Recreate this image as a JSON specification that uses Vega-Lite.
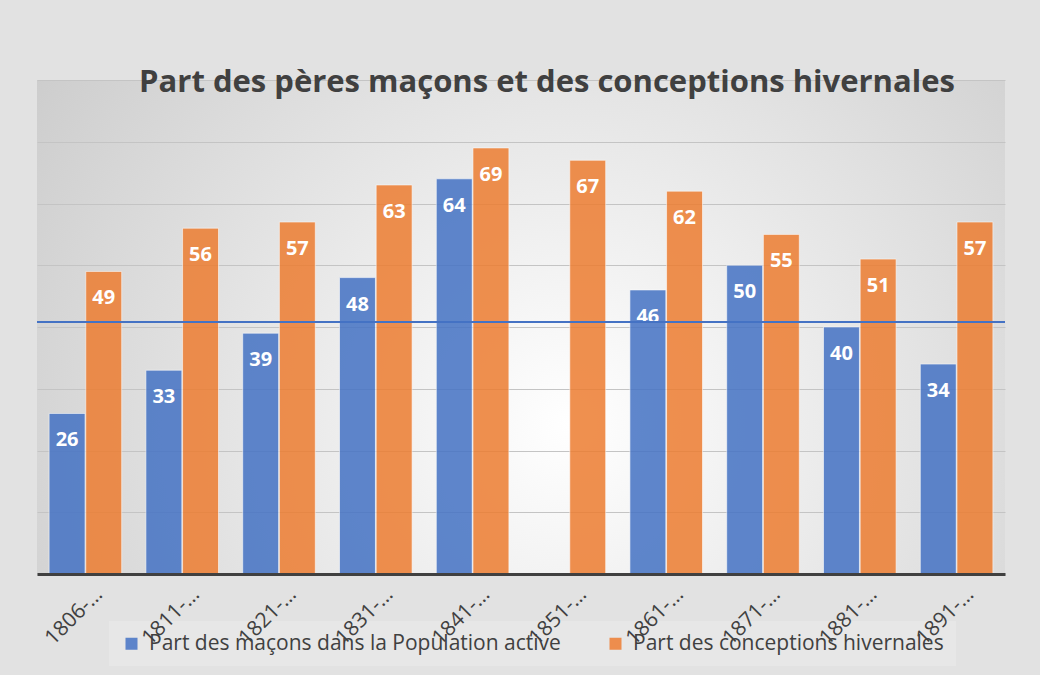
{
  "$schema": "https://vega.github.io/schema/vega-lite/v6.json",
  "width": 968,
  "height": 494,
  "autosize": {"type": "none"},
  "padding": {"left": 37, "top": 80, "right": 35, "bottom": 101},
  "background": "#e2e2e2",
  "view": {
    "stroke": null,
    "fill": {"gradient": "radial", "x1": 0.55, "y1": 0.6, "r1": 0, "x2": 0.55, "y2": 0.6, "r2": 0.75,
      "stops": [{"offset": 0, "color": "#ffffff"}, {"offset": 1, "color": "#c6c6c6"}]}
  },
  "title": {
    "text": "Part des pères maçons et des conceptions hivernales",
    "font": "Open Sans", "fontSize": 31, "fontWeight": "bold", "color": "#404040",
    "anchor": "middle", "offset": -19, "dx": 26
  },
  "config": {
    "font": "Open Sans",
    "axis": {"labelFont": "Open Sans", "titleFont": "Open Sans"},
    "legend": {"labelFont": "Open Sans"}
  },
  "layer": [
    {
      "data": {"values": [
        {"periode": "1806-…", "serie": "Part des maçons dans la Population active", "valeur": 26},
        {"periode": "1806-…", "serie": "Part des conceptions hivernales", "valeur": 49},
        {"periode": "1811-…", "serie": "Part des maçons dans la Population active", "valeur": 33},
        {"periode": "1811-…", "serie": "Part des conceptions hivernales", "valeur": 56},
        {"periode": "1821-…", "serie": "Part des maçons dans la Population active", "valeur": 39},
        {"periode": "1821-…", "serie": "Part des conceptions hivernales", "valeur": 57},
        {"periode": "1831-…", "serie": "Part des maçons dans la Population active", "valeur": 48},
        {"periode": "1831-…", "serie": "Part des conceptions hivernales", "valeur": 63},
        {"periode": "1841-…", "serie": "Part des maçons dans la Population active", "valeur": 64},
        {"periode": "1841-…", "serie": "Part des conceptions hivernales", "valeur": 69},
        {"periode": "1851-…", "serie": "Part des conceptions hivernales", "valeur": 67},
        {"periode": "1861-…", "serie": "Part des maçons dans la Population active", "valeur": 46},
        {"periode": "1861-…", "serie": "Part des conceptions hivernales", "valeur": 62},
        {"periode": "1871-…", "serie": "Part des maçons dans la Population active", "valeur": 50},
        {"periode": "1871-…", "serie": "Part des conceptions hivernales", "valeur": 55},
        {"periode": "1881-…", "serie": "Part des maçons dans la Population active", "valeur": 40},
        {"periode": "1881-…", "serie": "Part des conceptions hivernales", "valeur": 51},
        {"periode": "1891-…", "serie": "Part des maçons dans la Population active", "valeur": 34},
        {"periode": "1891-…", "serie": "Part des conceptions hivernales", "valeur": 57}
      ]},
      "encoding": {
        "x": {
          "field": "periode", "type": "nominal", "sort": null,
          "scale": {"paddingInner": 0.25, "paddingOuter": 0.125},
          "axis": {
            "title": null, "labelAngle": -45, "labelAlign": "right", "labelBaseline": "middle",
            "labelFontSize": 21, "labelColor": "#404040", "labelOffset": 14, "labelPadding": 17,
            "ticks": false, "domainColor": "#404040", "domainWidth": 3, "grid": false, "zindex": 1
          }
        },
        "xOffset": {
          "field": "serie", "type": "nominal",
          "scale": {"domain": ["Part des maçons dans la Population active", "Part des conceptions hivernales"], "paddingInner": 0.02}
        },
        "y": {
          "field": "valeur", "type": "quantitative",
          "scale": {"domain": [0, 80], "nice": false},
          "axis": {"title": null, "labels": false, "ticks": false, "domain": false, "tickCount": 8,
            "gridColor": "#c4c4c4", "gridWidth": 1}
        }
      },
      "layer": [
        {
          "mark": {"type": "bar", "opacity": 0.85, "stroke": "#ffffff", "strokeWidth": 1, "strokeOpacity": 0.6},
          "encoding": {
            "color": {
              "field": "serie", "type": "nominal",
              "scale": {"domain": ["Part des maçons dans la Population active", "Part des conceptions hivernales"], "range": ["#4472C4", "#ED7D31"]},
              "legend": {
                "title": null, "orient": "none", "direction": "horizontal",
                "legendX": 72, "legendY": 541,
                "symbolType": "square", "symbolSize": 144, "symbolOpacity": 0.85, "symbolStrokeWidth": 0,
                "labelFontSize": 21, "labelColor": "#404040", "labelOffset": 7, "labelLimit": 500,
                "columnPadding": 44, "padding": 12, "fillColor": "rgba(238,238,238,0.45)"
              }
            }
          }
        },
        {
          "mark": {"type": "text", "color": "#ffffff", "fontWeight": "bold", "fontSize": 20, "baseline": "middle", "dy": 27},
          "encoding": {"text": {"field": "valeur", "type": "quantitative"}}
        }
      ]
    },
    {
      "data": {"values": [{"reference": 40.8}]},
      "mark": {"type": "rule", "color": "#4472C4", "strokeWidth": 2},
      "encoding": {"y": {"field": "reference", "type": "quantitative"}}
    }
  ]
}
